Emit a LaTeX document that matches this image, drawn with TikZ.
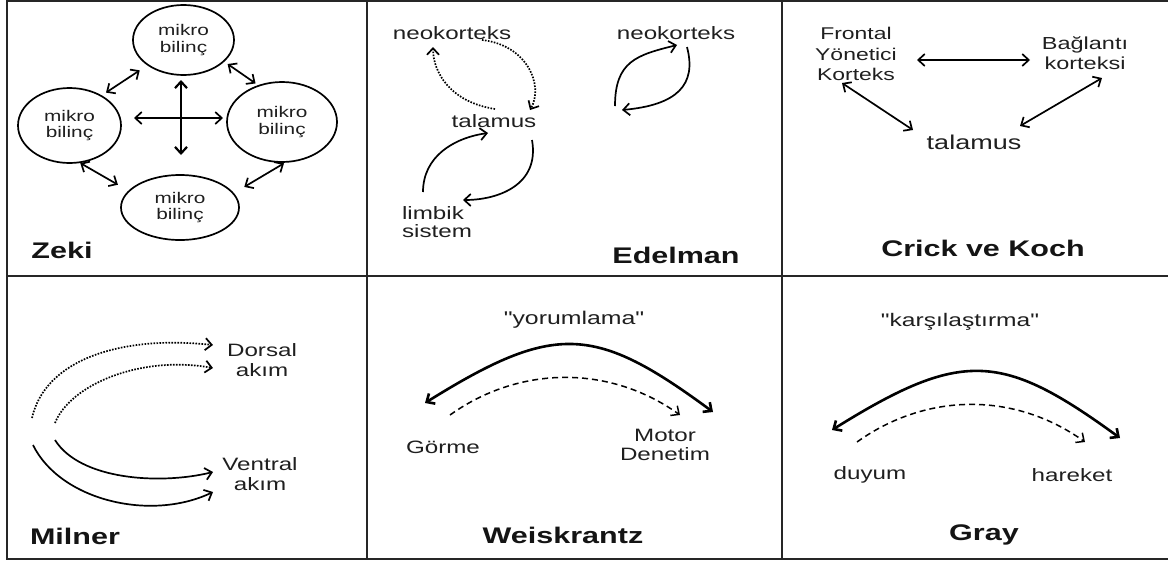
\documentclass[tikz,border=0pt]{standalone}
\usepackage{fontspec}
\setmainfont{Liberation Sans}[FakeStretch=1.35, Ligatures=TeXOff]
\usetikzlibrary{arrows.meta,shapes.geometric,calc}
\newcommand\fsz[2]{\fontsize{#1}{#2}\selectfont}

\begin{document}
\begin{tikzpicture}[x=1pt,y=-1pt,
  frame/.style={line width=2.2pt, black!85},
  lab/.style={inner sep=0pt, align=center, text=black!88, font=\fsz{17.9}{19.5}},
  title/.style={inner sep=0pt, text=black!92, font=\fsz{22.6}{24}\bfseries},
  mk/.style={ellipse, draw, line width=1.7pt, inner sep=0pt, align=center, text=black!88, font=\fsz{15.4}{16.5}},
  conn/.style={line width=1.7pt, -{Straight Barb[length=6.5pt,width=12pt]}},
  both/.style={line width=1.7pt, {Straight Barb[length=6.5pt,width=12pt]}-{Straight Barb[length=6.5pt,width=12pt]}},
  dots/.style={dash pattern=on 1.6pt off 1.4pt},
  dashes/.style={line width=1.5pt, dash pattern=on 6pt off 4pt}]
\useasboundingbox (0,0) rectangle (1168,563);

% panel grid
\draw[frame] (7,0) -- (7,559) -- (1168,559);
\draw[frame] (7,1) -- (1168,1);
\draw[frame] (7,276) -- (1168,276);
\draw[frame] (367,0) -- (367,559);
\draw[frame] (782,0) -- (782,559);

% ---------------- Zeki
\node[mk, minimum width=101pt, minimum height=70pt] (T) at (183.5,40) {mikro\\bilinç};
\node[mk, minimum width=103pt, minimum height=75pt] (L) at (69.5,125.5) {mikro\\bilinç};
\node[mk, minimum width=110pt, minimum height=80pt] (R) at (282,122) {mikro\\bilinç};
\node[mk, minimum width=118pt, minimum height=65pt] (B) at (180,207.5) {mikro\\bilinç};
\draw[both, shorten <=5pt, shorten >=9pt] (L.43) -- (T.215);
\draw[both, shorten <=4pt, shorten >=3pt] (T.332) -- (R.123);
\draw[both, shorten >=12pt] (L.286) -- (B.162);
\draw[both, shorten <=1pt, shorten >=12pt] (R.274) -- (B.15);
\coordinate (cN) at (181,80);
\coordinate (cS) at (181,155);
\coordinate (cW) at (134,118);
\coordinate (cE) at (223,118);
\draw[both, line width=2.2pt] (cN) -- (cS);
\draw[both] (cW) -- (cE);
\node[title] (zeki) at (62,250) {Zeki};

% ---------------- Edelman
\node[lab] (nkA) at (452,33) {neokorteks};
\node[lab] (nkB) at (676,33) {neokorteks};
\node[lab] (talE) at (494,121) {talamus};
\node[lab, align=left, font=\fsz{17.9}{17.5}] (lim) at (437,222) {limbik\\sistem};
\draw[conn, dots] ($(talE)+(1,-12)$) .. controls +(-45,-7) and +(0,25) .. ($(nkA)+(-19,14)$);
\draw[conn, dots] ($(nkA)+(30,7)$) .. controls +(45,5) and +(14,-25) .. ($(talE)+(36,-11)$);
\draw[conn] ($(lim)+(-14,-30)$) .. controls +(0,-35) and +(-35,5) .. ($(talE)+(-6,12)$);
\draw[conn] ($(talE)+(38,19)$) .. controls +(8,45) and +(35,0) .. ($(lim)+(26,-22)$);
\draw[conn] ($(nkB)+(-61,73)$) .. controls +(0,-45) and +(-40,10) .. ($(nkB)+(1,12)$);
\draw[conn] ($(nkB)+(11,14)$) .. controls +(10,38) and +(55,-5) .. ($(nkB)+(-54,77)$);
\node[title] (edel) at (676,255) {Edelman};

% ---------------- Crick ve Koch
\node[lab, font=\fsz{17}{20.5}] (fyk) at (856,54) {Frontal\\Yönetici\\Korteks};
\node[lab, font=\fsz{17.4}{20}] (bk) at (1085,53) {Bağlantı\\korteksi};
\node[lab, font=\fsz{20}{21}] (talC) at (974,142) {talamus};
\draw[both] ($(fyk)+(61,6)$) -- ($(bk)+(-55,7)$);
\draw[both] ($(fyk)+(-14,29)$) -- ($(talC)+(-61,-12)$);
\draw[both] ($(bk)+(17,25)$) -- ($(talC)+(46,-16)$);
\node[title] (crick) at (983,248) {Crick ve Koch};

% ---------------- Milner
\node[lab] (dor) at (262,360) {Dorsal\\akım};
\node[lab] (ven) at (260,474) {Ventral\\akım};
\coordinate (m1) at (32,418);
\coordinate (m2) at (55,423);
\coordinate (m3) at (55,440);
\coordinate (m4) at (33,445);
\draw[conn, dots] (m1) .. controls (45,360) and (120,335) .. ($(dor)+(-49,-15)$);
\draw[conn, dots] (m2) .. controls (70,385) and (140,355) .. ($(dor)+(-49,8)$);
\draw[conn] (m3) .. controls (80,480) and (160,485) .. ($(ven)+(-47,-2)$);
\draw[conn] (m4) .. controls (60,500) and (150,522) .. ($(ven)+(-47,18)$);
\node[title] (miln) at (75,536) {Milner};

% ---------------- Weiskrantz
\node[lab, font=\fsz{18.4}{20}] (yor) at (574,320) {"yorumlama"};
\node[lab] (gor) at (443,447) {Görme};
\node[lab] (mot) at (665,445) {Motor\\Denetim};
\draw[both, line width=2.6pt] ($(gor)+(-18,-44)$) .. controls +(130,-81) and +(-118,-87) .. ($(mot)+(48,-33)$);
\draw[conn, dashes] ($(gor)+(7,-32)$) .. controls +(70,-50) and +(-70,-50) .. ($(mot)+(15,-30)$);
\node[title] (weis) at (563,535) {Weiskrantz};

% ---------------- Gray
\node[lab, font=\fsz{18.2}{20}] (kar) at (960,322) {"karşılaştırma"};
\node[lab] (duy) at (870,475) {duyum};
\node[lab] (har) at (1072,475) {hareket};
\draw[both, line width=2.6pt] ($(duy)+(-38,-45)$) .. controls +(130,-81) and +(-118,-86) .. ($(har)+(48,-37)$);
\draw[conn, dashes] ($(duy)+(-13,-33)$) .. controls +(70,-50) and +(-70,-50) .. ($(har)+(13,-33)$);
\node[title] (gray) at (984,535) {Gray};
\end{tikzpicture}
\end{document}
